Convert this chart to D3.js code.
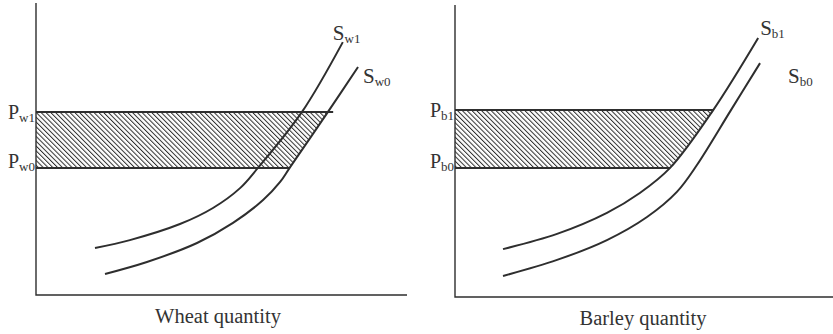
<!DOCTYPE html>
<html>
<head>
<meta charset="utf-8">
<script src="https://cdn.jsdelivr.net/npm/d3@7"></script>
<style>
  body { margin: 0; background: #fff; }
  svg { display: block; }
  text { font-family: "Liberation Serif", "DejaVu Serif", serif; fill: #333; }
</style>
</head>
<body>
<div id="chart"></div>
<script>
// supply curves, quantity / price in 0-100 units
var wheatS1Q = [15.9, 25.3, 38.8, 47.7, 55.0, 59.8, 71.7, 82.7];
var wheatS1P = [16.1, 18.8, 24.3, 29.8, 36.6, 43.5, 62.7, 86.6];
var wheatS0Q = [18.6, 29.9, 43.4, 53.1, 61.2, 65.8, 68.5, 78.7, 86.8];
var wheatS0P = [7.2, 11.3, 17.8, 24.7, 32.5, 38.7, 43.8, 62.7, 78.1];
var wheatPrices = [43.5, 62.7]; // Pw0, Pw1

var barleyS1Q = [12.7, 27.0, 40.2, 48.9, 56.9, 68.3, 80.2];
var barleyS1P = [16.4, 21.6, 28.8, 35.6, 44.2, 64.0, 88.7];
var barleyS0Q = [12.7, 27.0, 40.2, 50.8, 58.7, 64.0, 73.0, 80.7];
var barleyS0P = [7.2, 12.7, 19.5, 27.4, 36.0, 45.2, 64.0, 80.1];
var barleyPrices = [44.2, 64.0]; // Pb0, Pb1

var width = 833, height = 334;
var ink = "#2e2e2e";

var svg = d3.select("#chart").append("svg")
  .attr("width", width)
  .attr("height", height);

// hatching
svg.append("defs").append("pattern")
  .attr("id", "hatch")
  .attr("patternUnits", "userSpaceOnUse")
  .attr("width", 3.4)
  .attr("height", 3.4)
  .attr("patternTransform", "rotate(-45)")
  .append("line")
  .attr("x1", 0).attr("y1", 0)
  .attr("x2", 0).attr("y2", 3.4)
  .attr("stroke", ink)
  .attr("stroke-width", 2);

function zip(q, p) {
  return q.map(function(d, i) { return [d, p[i]]; });
}

// quantity where a curve reaches a given price
function qAt(pts, price) {
  for (var i = 1; i < pts.length; i++) {
    var a = pts[i - 1], b = pts[i];
    if (price >= a[1] && price <= b[1]) {
      return a[0] + (b[0] - a[0]) * (price - a[1]) / (b[1] - a[1]);
    }
  }
  return pts[pts.length - 1][0];
}

function drawPanel(opt) {
  var x = d3.scaleLinear().domain([0, 100]).range(opt.xRange);
  var y = d3.scaleLinear().domain([0, 100]).range(opt.yRange);
  var g = svg.append("g");

  var s1 = zip(opt.s1q, opt.s1p);
  var s0 = zip(opt.s0q, opt.s0p);
  var bound = opt.boundBy === "s1" ? s1 : s0;
  var p0 = opt.prices[0], p1 = opt.prices[1];
  var q0 = qAt(bound, p0), q1 = qAt(bound, p1);

  // hatched area between the two prices, left of the bounding curve
  g.append("path")
    .attr("d", d3.line()([
      [x(0), y(p1)], [x(q1), y(p1)], [x(q0), y(p0)], [x(0), y(p0)]
    ]))
    .attr("fill", "url(#hatch)")
    .attr("stroke", "none");

  g.append("line")
    .attr("x1", x(0)).attr("x2", x(q1 + opt.overhang))
    .attr("y1", y(p1)).attr("y2", y(p1))
    .attr("stroke", ink).attr("stroke-width", 2);
  g.append("line")
    .attr("x1", x(0)).attr("x2", x(q0))
    .attr("y1", y(p0)).attr("y2", y(p0))
    .attr("stroke", ink).attr("stroke-width", 2);

  // axes
  g.append("path")
    .attr("d", d3.line()([[x(0), y(100)], [x(0), y(0)], [x(100), y(0)]]))
    .attr("fill", "none")
    .attr("stroke", ink)
    .attr("stroke-width", 1.4);

  var line = d3.line()
    .x(function(d) { return x(d[0]); })
    .y(function(d) { return y(d[1]); })
    .curve(d3.curveCatmullRom.alpha(0.5));

  [s1, s0].forEach(function(pts) {
    g.append("path")
      .attr("d", line(pts))
      .attr("fill", "none")
      .attr("stroke", ink)
      .attr("stroke-width", 2);
  });

  function label(tx, ty, main, sub, anchor, size) {
    var t = g.append("text")
      .attr("x", tx).attr("y", ty)
      .attr("font-size", size || 19)
      .attr("text-anchor", anchor || "start");
    t.append("tspan").text(main);
    t.append("tspan").attr("font-size", 13).attr("dy", 3).text(sub);
  }

  // price labels next to the axis
  label(x(0) - 1, y(p1) + 7, "P", opt.sub + "1", "end", 20);
  label(x(0) - 1, y(p0) + 0, "P", opt.sub + "0", "end", 20);

  // curve labels near the curve ends
  var e1 = s1[s1.length - 1], e0 = s0[s0.length - 1];
  label(x(e1[0]) + opt.s1Off[0], y(e1[1]) + opt.s1Off[1], "S", opt.sub + "1", "start", 21);
  label(x(e0[0]) + opt.s0Off[0], y(e0[1]) + opt.s0Off[1], "S", opt.sub + "0", "start", 21);

  g.append("text")
    .attr("x", opt.titleX)
    .attr("y", opt.titleY)
    .attr("text-anchor", "middle")
    .attr("font-size", 20.5)
    .text(opt.title);
}

drawPanel({
  xRange: [36, 407], yRange: [295, 3],
  s1q: wheatS1Q, s1p: wheatS1P, s0q: wheatS0Q, s0p: wheatS0P,
  prices: wheatPrices, boundBy: "s0", overhang: 1.4,
  sub: "w", s1Off: [-10, -2], s0Off: [5, 16],
  title: "Wheat quantity", titleX: 218, titleY: 323
});

drawPanel({
  xRange: [455, 833], yRange: [297, 5],
  s1q: barleyS1Q, s1p: barleyS1P, s0q: barleyS0Q, s0p: barleyS0P,
  prices: barleyPrices, boundBy: "s1", overhang: 0,
  sub: "b", s1Off: [2, -3], s0Off: [28, 20],
  title: "Barley quantity", titleX: 643, titleY: 325
});
</script>
</body>
</html>
